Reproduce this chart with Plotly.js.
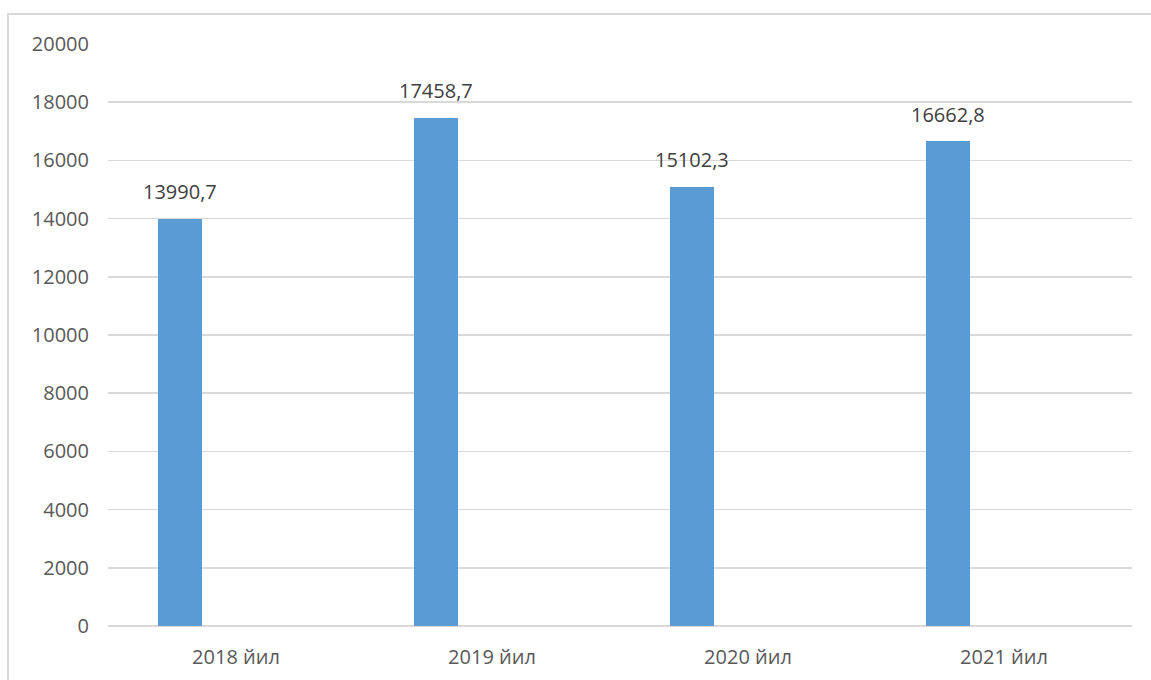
<!DOCTYPE html>
<html>
<head>
<meta charset="utf-8">
<script src="https://cdn.plot.ly/plotly-3.0.1.min.js"></script>
<style>html,body{margin:0;padding:0;background:#fff;}#chart{width:1151px;height:680px;}</style>
</head>
<body>
<div id="chart"></div>
<script>
var categories = ['2018 йил', '2019 йил', '2020 йил', '2021 йил'];
var values = [13990.7, 17458.7, 15102.3, 16662.8];
var labels = values.map(function (v) { return v.toFixed(1).replace('.', ','); });
var yTicks = [0, 2000, 4000, 6000, 8000, 10000, 12000, 14000, 16000, 18000, 20000];

var fontFam = 'Open Sans, Liberation Sans, sans-serif';
var txtColor = '#595959';

var trace = {
  type: 'bar',
  x: categories,
  y: values,
  width: 0.172,
  offset: -0.305,
  marker: { color: '#5B9BD5', line: { width: 0 } },
  hoverinfo: 'x+y'
};

var annotations = categories.map(function (c, i) {
  return {
    x: c, y: values[i], xref: 'x', yref: 'y',
    text: labels[i], showarrow: false,
    xshift: -56, yshift: 27,
    font: { family: fontFam, size: 20, color: '#404040' }
  };
});

var layout = {
  width: 1151, height: 680,
  margin: { l: 108, r: 19, t: 44, b: 54 },
  paper_bgcolor: '#fff', plot_bgcolor: '#fff',
  showlegend: false,
  separators: ', ',
  bargap: 0,
  xaxis: {
    type: 'category',
    showgrid: false, zeroline: false, showline: false,
    ticks: 'outside', ticklen: 13, tickcolor: 'rgba(0,0,0,0)',
    tickfont: { family: fontFam, size: 20, color: txtColor }
  },
  yaxis: {
    range: [0, 20000],
    tickvals: yTicks,
    ticktext: yTicks.map(String),
    showgrid: true, gridcolor: '#D9D9D9', gridwidth: 1.5,
    zeroline: true, zerolinecolor: '#D9D9D9', zerolinewidth: 1.5,
    showline: false,
    ticks: 'outside', ticklen: 14, tickcolor: 'rgba(0,0,0,0)',
    tickfont: { family: fontFam, size: 20, color: txtColor }
  },
  annotations: annotations,
  shapes: [{
    type: 'rect', xref: 'paper', yref: 'paper',
    x0: -0.0977, x1: 1.2, y0: -0.2, y1: 1.0515,
    line: { color: '#D9D9D9', width: 2 }, fillcolor: 'rgba(0,0,0,0)', layer: 'below'
  }]
};

Plotly.newPlot('chart', [trace], layout, { displayModeBar: false, staticPlot: true });
</script>
</body>
</html>
